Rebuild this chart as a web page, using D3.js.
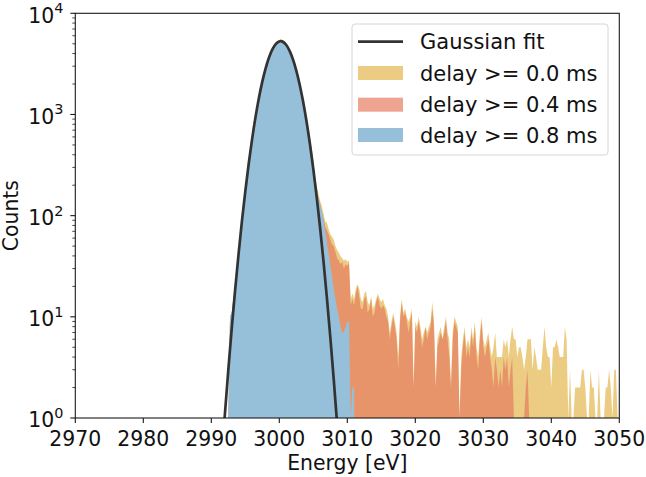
<!DOCTYPE html>
<html>
<head>
<meta charset="utf-8">
<script src="https://d3js.org/d3.v7.min.js"></script>
<style>
  body { margin: 0; background: white; }
  svg { display: block; font-family: "DejaVu Sans", sans-serif; }
</style>
</head>
<body>
<div id="bigdiv"></div>
<script>
// energy histograms for three delay cuts, log counts, with gaussian fit

// histogram bins: first bin centre and bin width (eV)
const binStart = 2992.5
const binWidth = 0.25

// delay >= 0.8 ms (2992.5 .. 3011.0)
const counts08 = [
    0, 10, 11, 15, 21, 30, 43, 62, 89, 126,
    175, 238, 322, 430, 566, 733, 935, 1172, 1445, 1752,
    2098, 2470, 2860, 3262, 3661, 4045, 4400, 4712, 4965, 5150,
    5262, 5290, 5230, 5090, 4878, 4600, 4270, 3905, 3515, 3115,
    2720, 2340, 1985, 1660, 1370, 1115, 895, 712, 560, 438,
    330, 230, 180, 150, 125, 110, 90, 70, 55, 42,
    33, 25, 19, 15, 12, 10, 8, 7, 7, 8,
    9, 9, 0, 2, 2
]

// delay >= 0.4 ms (2992.5 .. 3037.0)
const counts04 = [
    0, 10, 11, 15, 21, 30, 43, 62, 90, 128,
    178, 242, 328, 438, 577, 747, 953, 1195, 1473, 1786,
    2139, 2519, 2917, 3327, 3734, 4126, 4488, 4806, 5064, 5253,
    5367, 5396, 5335, 5192, 4976, 4692, 4355, 3983, 3585, 3177,
    2774, 2387, 2025, 1693, 1397, 1137, 913, 726, 575, 455,
    345, 235, 185, 155, 130, 112, 95, 78,
    72, 66, 58, 52, 50, 44, 38, 36,
    33, 35, 30, 33, 32, 34, 13, 15,
    13, 17, 20, 16, 12, 12, 15, 16,
    11, 12, 15, 10, 11, 14, 16, 13,
    12, 13, 12, 10, 9, 6, 8, 10,
    8, 6, 3, 9, 14, 10, 11, 9,
    7, 9, 11, 2, 8, 7, 9, 7,
    5, 6, 8, 6, 7, 8, 12, 8,
    2, 5, 6, 7, 6, 7, 9, 6,
    4, 2, 6, 9, 8, 7, 0, 3,
    5, 7, 4, 5, 4, 7, 5, 8,
    4, 3, 6, 9, 5, 4, 5, 6,
    4, 3, 2, 4, 3, 2, 3, 2,
    4, 3, 4, 2, 3, 4, 0, 0,
    0, 0, 0, 0, 0, 2, 3, 0,
    0
]

// delay >= 0.0 ms (2992.5 .. 3050.0)
const counts00 = [
    0, 10, 11, 15, 21, 30, 44, 63, 91, 130,
    181, 246, 334, 447, 588, 762, 972, 1219, 1502, 1822,
    2182, 2569, 2975, 3393, 3809, 4208, 4578, 4902, 5165, 5358,
    5474, 5504, 5441, 5296, 5075, 4786, 4442, 4063, 3657, 3240,
    2829, 2434, 2065, 1727, 1425, 1160, 932, 742, 590, 470,
    360, 245, 200, 165, 140, 125, 105, 88,
    85, 74, 66, 62, 58, 50, 46, 43,
    40, 38, 36, 37, 35, 36, 15, 17,
    15, 19, 21, 19, 15, 14, 17, 18,
    14, 13, 16, 12, 13, 15, 17, 15,
    14, 15, 13, 12, 10, 7, 9, 11,
    9, 7, 4, 10, 15, 11, 12, 10,
    9, 10, 12, 2, 9, 8, 10, 8,
    6, 7, 8, 7, 8, 9, 14, 9,
    2, 6, 7, 8, 6, 8, 10, 7,
    6, 2, 7, 10, 9, 8, 0, 4,
    6, 8, 5, 6, 5, 8, 6, 9,
    5, 4, 7, 10, 6, 5, 6, 7,
    5, 4, 5, 7, 4, 4, 4, 4,
    6, 5, 6, 4, 6, 8, 6, 6,
    4, 5, 5, 4, 3, 4, 6, 6,
    6, 3, 5, 4, 3, 3, 3, 5,
    8, 5, 4, 4, 2, 5, 5, 6,
    5, 4, 4, 4, 8, 6, 0, 3,
    0, 0, 2, 2, 2, 2, 3, 3,
    2, 0, 0, 3, 2, 2, 0, 0,
    3, 0, 0, 0, 2, 2, 3, 2,
    0, 3, 3, 0, 0
]

// gaussian fit curve
const fitEnergy = [2991.5, 2992.0, 2992.5, 2993.0, 2993.5, 2994.0, 2994.5, 2995.0, 2995.5, 2996.0,
    2996.5, 2997.0, 2997.5, 2998.0, 2998.5, 2999.0, 2999.5, 3000.0, 3000.25, 3000.5,
    3001.0, 3001.5, 3002.0, 3002.5, 3003.0, 3003.5, 3004.0, 3004.5, 3005.0, 3005.5,
    3006.0, 3006.5, 3007.0, 3007.5, 3008.0, 3008.5, 3009.0]
const fitCounts = [0.37, 1.09, 2.97, 7.6, 18.3, 41.3, 87.7, 174, 326, 571,
    941, 1455, 2112, 2876, 3679, 4419, 4982, 5273, 5298, 5240,
    4889, 4280, 3519, 2716, 1969, 1340, 856, 513, 289, 153,
    75.8, 35.3, 15.4, 6.3, 2.44, 0.88, 0.3]

const xTicks = [2970, 2980, 2990, 3000, 3010, 3020, 3030, 3040, 3050]
const yTicks = [1, 10, 100, 1000, 10000]
const yTickExp = ['0', '1', '2', '3', '4']

const legendLabels = ['Gaussian fit', 'delay >= 0.0 ms', 'delay >= 0.4 ms', 'delay >= 0.8 ms']

const colors = {
    c00: '#ebcc82',
    c04: 'rgba(231,124,97,0.7)',
    c04legend: '#efa491',
    c08: '#96c0da',
    fit: '#333333'
}

function buildChart() {
    let W = 646, H = 477
    let margin = { left: 75.3, right: 646 - 619.3, top: 13.3, bottom: 477 - 418 }
    let pw = W - margin.left - margin.right
    let ph = H - margin.top - margin.bottom
    let fs = 20.4   // tick / label font size

    let svg = d3.select('div#bigdiv').append('svg')
        .attr('width', W).attr('height', H)

    let x = d3.scaleLinear().domain([2970, 3050]).range([0, pw])
    let y = d3.scaleLog().domain([1, 10000]).range([ph, 0])

    let g = svg.append('g').attr('transform', 'translate(' + margin.left + ',' + margin.top + ')')

    svg.append('defs').append('clipPath').attr('id', 'plotclip')
        .append('rect').attr('x', 0).attr('y', 0).attr('width', pw).attr('height', ph)

    let plot = g.append('g').attr('clip-path', 'url(#plotclip)')

    // histogram areas, zero counts fall to the bottom of the axes
    let yv = c => c >= 1 ? y(c) : ph
    let area = d3.area()
        .x((d, i) => x(binStart + i * binWidth))
        .y0(ph)
        .y1(d => yv(d))

    plot.append('path').datum(counts00).attr('d', area).attr('fill', colors.c00)
    plot.append('path').datum(counts04).attr('d', area).attr('fill', colors.c04)
    plot.append('path').datum(counts08).attr('d', area).attr('fill', colors.c08)

    // gaussian fit line
    let fitData = fitEnergy.map((e, i) => [e, fitCounts[i]])
    let line = d3.line()
        .x(d => x(d[0]))
        .y(d => y(d[1]))
        .curve(d3.curveCatmullRom)
    plot.append('path').datum(fitData).attr('d', line)
        .attr('fill', 'none').attr('stroke', colors.fit).attr('stroke-width', 2.7)

    // frame
    g.append('rect').attr('x', 0).attr('y', 0).attr('width', pw).attr('height', ph)
        .attr('fill', 'none').attr('stroke', '#1a1a1a').attr('stroke-width', 1.1)

    // x axis ticks + labels
    let xg = g.append('g').attr('transform', 'translate(0,' + ph + ')')
    xTicks.forEach(t => {
        xg.append('line').attr('x1', x(t)).attr('x2', x(t)).attr('y1', 0).attr('y2', 5)
            .attr('stroke', '#1a1a1a').attr('stroke-width', 1.1)
        xg.append('text').attr('x', x(t)).attr('y', 27.5)
            .attr('text-anchor', 'middle').attr('font-size', fs).attr('fill', '#111')
            .text(t)
    })

    // y axis, major ticks with 10^n labels
    let yg = g.append('g')
    yTicks.forEach((t, i) => {
        yg.append('line').attr('x1', -5).attr('x2', 0).attr('y1', y(t)).attr('y2', y(t))
            .attr('stroke', '#1a1a1a').attr('stroke-width', 1.1)
        let txt = yg.append('text').attr('x', -12).attr('y', y(t) + 9.5)
            .attr('text-anchor', 'end').attr('font-size', fs).attr('fill', '#111')
        txt.append('tspan').text('10')
        txt.append('tspan').attr('dy', -9.6).attr('font-size', 14.4).text(yTickExp[i])
    })
    // minor log ticks
    for (let dec = 1; dec < 10000; dec *= 10) {
        for (let k = 2; k <= 9; k++) {
            let v = dec * k
            yg.append('line').attr('x1', -3).attr('x2', 0).attr('y1', y(v)).attr('y2', y(v))
                .attr('stroke', '#1a1a1a').attr('stroke-width', 0.8)
        }
    }

    // axis titles
    svg.append('text').attr('x', margin.left + pw / 2).attr('y', 470)
        .attr('text-anchor', 'middle').attr('font-size', fs).attr('fill', '#111')
        .text('Energy [eV]')
    svg.append('text').attr('transform', 'translate(17.5,' + (margin.top + ph / 2) + ') rotate(-90)')
        .attr('text-anchor', 'middle').attr('font-size', fs).attr('fill', '#111')
        .text('Counts')

    // legend
    let lg = svg.append('g').attr('transform', 'translate(352,24)')
    lg.append('rect').attr('x', 0).attr('y', 0).attr('width', 256).attr('height', 131)
        .attr('rx', 3).attr('fill', 'rgba(255,255,255,0.8)').attr('stroke', '#d6d6d6').attr('stroke-width', 1)
    let rowY = [17.7, 49, 80.7, 111]
    lg.append('line').attr('x1', 6).attr('x2', 51).attr('y1', rowY[0]).attr('y2', rowY[0])
        .attr('stroke', colors.fit).attr('stroke-width', 2.7)
    let patchColors = [colors.c00, colors.c04legend, colors.c08]
    patchColors.forEach((c, i) => {
        lg.append('rect').attr('x', 6).attr('y', rowY[i + 1] - 7).attr('width', 45).attr('height', 14)
            .attr('fill', c)
    })
    legendLabels.forEach((lab, i) => {
        lg.append('text').attr('x', 68).attr('y', rowY[i] + 7.5)
            .attr('font-size', 21).attr('fill', '#111').text(lab)
    })
}

buildChart()
</script>
</body>
</html>
